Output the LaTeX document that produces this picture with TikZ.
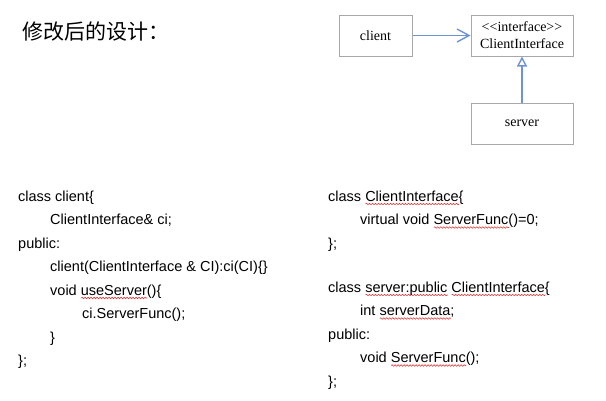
\documentclass[tikz,border=0pt]{standalone}
\usepackage{fontspec}
\setmainfont{Liberation Serif}
\newfontfamily\codefont{Liberation Sans}
\newfontfamily\cjk{Noto Sans CJK SC}
\usepackage{xcolor}
\usetikzlibrary{positioning, arrows.meta, decorations.pathmorphing}
\definecolor{azul}{HTML}{6E92D2}
\definecolor{borde}{HTML}{A8A8A8}
\definecolor{rojo}{HTML}{E03C3C}
\tikzset{squig/.style={draw=rojo, line width=0.6pt, decorate, decoration={snake, amplitude=0.8pt, segment length=3pt}}}
\newlength\malw
\newcommand\mal[1]{\settowidth{\malw}{#1}\rlap{\tikz[baseline=0pt]\draw[squig] (0pt,-3pt) -- (\malw,-3pt);}#1}

\begin{document}
\begin{tikzpicture}[x=1pt, y=-1pt, node distance=23.5pt,
		every node/.style={text=black, inner sep=0pt},
		caja/.style={rectangle, draw=borde, line width=1pt, minimum height=41pt, font=\fontsize{14}{17}\selectfont, align=center},
		codigo/.style={anchor=west, font=\codefont\fontsize{14.5}{17}\selectfont, text height=11pt, text depth=3pt},
		sig/.style={below=of #1.west, anchor=west},
		flecha/.style={draw=azul, line width=1.4pt, -{Straight Barb[length=12pt, width=13pt]}},
		hereda/.style={draw=azul, line width=1.4pt, -{Triangle[open, length=10pt, width=10pt, fill=white]}}
		]
		\useasboundingbox (0,0) rectangle (606,400);
		
		% titulo
		\node[anchor=west, font=\cjk\fontsize{21}{24}\selectfont] (titulo) at (22,32) {修改后的设计：};
		
		% cajas del diagrama
		\node[caja, minimum width=73pt] (client) at (375.5,35.5) {client};
		\node[caja, minimum width=102pt, right=58pt of client] (ci) {<\kern0pt<interface>\kern0pt>\\ClientInterface};
		\node[caja, minimum width=102pt, below=46pt of ci] (server) {server};
		
		% flechas
		\draw[flecha] (client) -- (ci);
		\draw[hereda] (server) -- (ci);
		
		% codigo de client
		\node[codigo] (c1) at (18,197) {class client\{};
		\node[codigo, sig=c1, xshift=32pt] (c2) {ClientInterface\& ci;};
		\node[codigo, sig=c2, xshift=-32pt] (c3) {public:};
		\node[codigo, sig=c3, xshift=32pt] (c4) {client(ClientInterface \& CI):ci(CI)\{\}};
		\node[codigo, sig=c4] (c5) {void \mal{useServer}()\{};
		\node[codigo, sig=c5, xshift=32pt] (c6) {ci.ServerFunc();};
		\node[codigo, sig=c6, xshift=-32pt] (c7) {\}};
		\node[codigo, sig=c7, xshift=-32pt] (c8) {\};};
		
		% codigo de ClientInterface
		\node[codigo] (i1) at (328,197) {class \mal{ClientInterface}\{};
		\node[codigo, sig=i1, xshift=32pt] (i2) {virtual void \mal{ServerFunc}()=0;};
		\node[codigo, sig=i2, xshift=-32pt] (i3) {\};};
		
		% codigo de server
		\node[codigo, below=44pt of i3.west, anchor=west] (s1) {class \mal{server:public} \mal{ClientInterface}\{};
		\node[codigo, sig=s1, xshift=32pt] (s2) {int \mal{serverData};};
		\node[codigo, sig=s2, xshift=-32pt] (s3) {public:};
		\node[codigo, sig=s3, xshift=32pt] (s4) {void \mal{ServerFunc}();};
		\node[codigo, sig=s4, xshift=-32pt] (s5) {\};};
		
	\end{tikzpicture}
\end{document}
